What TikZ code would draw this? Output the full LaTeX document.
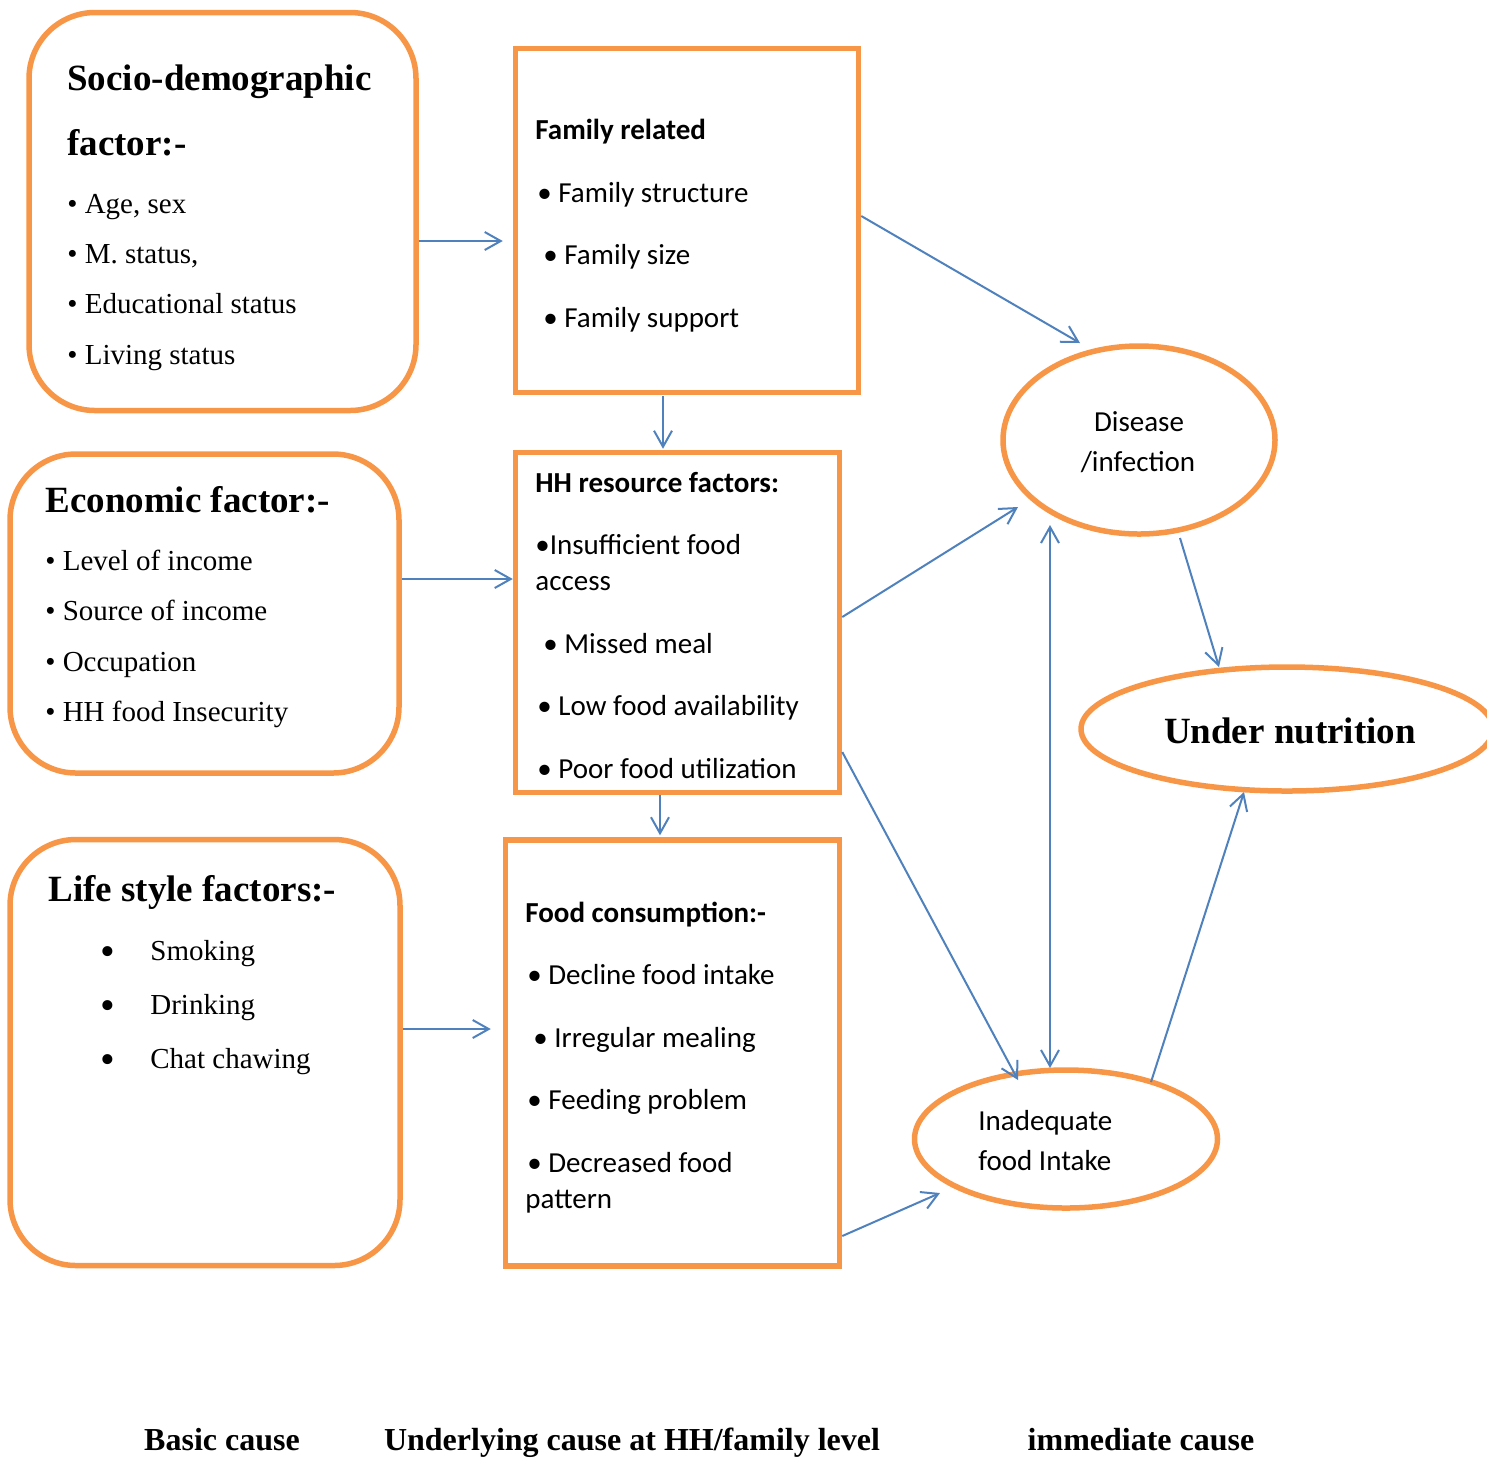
\documentclass[tikz,border=0pt]{standalone}
\usepackage{fontspec}
\setmainfont{Liberation Serif}
\newfontfamily\calibri{Carlito}
\usetikzlibrary{arrows.meta,shapes.geometric,calc}
\definecolor{borange}{HTML}{F79646}
\definecolor{lblue}{HTML}{4F81BD}
\tikzset{
  rbox/.style={draw=borange,line width=2.75pt,rounded corners=33pt,inner sep=0pt},
  sbox/.style={draw=borange,line width=2.75pt,inner sep=0pt},
  oval/.style={ellipse,draw=borange,line width=2.75pt,inner sep=0pt},
  arr/.style={draw=lblue,line width=1pt,-{Straight Barb[length=8pt,width=9pt]}},
  darr/.style={draw=lblue,line width=1pt,{Straight Barb[length=8pt,width=9pt]}-{Straight Barb[length=8pt,width=9pt]}},
  sh/.style={anchor=mid west,inner sep=0pt,yshift=-2.5pt,font=\bfseries\fontsize{18.5}{22}\selectfont},
  st/.style={anchor=mid west,inner sep=0pt,yshift=-1.5pt,font=\fontsize{14.5}{17}\selectfont},
  ch/.style={anchor=mid west,inner sep=0pt,yshift=-1.5pt,font=\calibri\bfseries\fontsize{14.5}{17}\selectfont},
  ct/.style={anchor=mid west,inner sep=0pt,yshift=-1.5pt,font=\calibri\fontsize{14.5}{17}\selectfont},
  bl/.style={anchor=mid,inner sep=0pt,yshift=-4pt,font=\fontsize{21}{24}\selectfont},
  foot/.style={anchor=mid,inner sep=0pt,yshift=-1.5pt,font=\bfseries\fontsize{16}{19}\selectfont}
}
\begin{document}
\begin{tikzpicture}[x=0.5pt,y=-0.5pt]
\useasboundingbox (0,0) rectangle (1487,1458);
\clip (0,0) rectangle (1487,1458);
% boxes
\node[rbox,minimum width=193.5pt,minimum height=199pt] (b1) at (222.5,211.5) {};
\node[rbox,minimum width=194.5pt,minimum height=159.5pt] (b2) at (204.5,613.5) {};
\node[rbox,minimum width=195pt,minimum height=213pt] (b3) at (205,1052.5) {};
\node[sbox,minimum width=171.5pt,minimum height=172pt] (ra) at (687,220.5) {};
\node[sbox,minimum width=162pt,minimum height=170pt] (rb) at (677.5,622.5) {};
\node[sbox,minimum width=167pt,minimum height=213pt] (rc) at (672.5,1053) {};
\node[oval,minimum width=136pt,minimum height=94pt] (dis) at (1139,440) {};
\node[oval,minimum width=206pt,minimum height=62pt] (und) at (1287,729) {};
\node[oval,minimum width=151.5pt,minimum height=69pt] (inad) at (1066,1139) {};
% box 1 text
\node[sh] (t1a) at (67,81) {Socio-demographic};
\node[sh] (t1b) at (67,146) {factor:-};
\node[st] (t1c) at (67,206) {• Age, sex};
\node[st] (t1d) at (67,256) {• M. status,};
\node[st] (t1e) at (67,306) {• Educational status};
\node[st] (t1f) at (67,357) {• Living status};
% box 2 text
\node[sh] (t2a) at (45,503) {Economic factor:-};
\node[st] (t2b) at (45,563) {• Level of income};
\node[st] (t2c) at (45,613) {• Source of income};
\node[st] (t2d) at (45,664) {• Occupation};
\node[st] (t2e) at (45,714) {• HH food Insecurity};
% box 3 text
\node[sh] (t3a) at (48,892) {Life style factors:-};
\node[bl] (t3b1) at (108,953) {•};
\node[bl] (t3c1) at (108,1007) {•};
\node[bl] (t3d1) at (108,1061) {•};
\node[st] (t3b) at (150,953) {Smoking};
\node[st] (t3c) at (150,1007) {Drinking};
\node[st] (t3d) at (150,1061) {Chat chawing};
% rect A text
\node[ch] (ta1) at (535,132) {Family related};
\node[ct] (ta2) at (537,195) {• Family structure};
\node[ct] (ta3) at (543,257) {• Family size};
\node[ct] (ta4) at (543,320) {• Family support};
% rect B text
\node[ch] (tb1) at (535,485) {HH resource factors:};
\node[ct] (tb2) at (535,547) {•Insufficient food};
\node[ct] (tb3) at (535,583) {access};
\node[ct] (tb4) at (543,646) {• Missed meal};
\node[ct] (tb5) at (537,708) {• Low food availability};
\node[ct] (tb6) at (537,771) {• Poor food utilization};
% rect C text
\node[ch] (tc1) at (525,915) {Food consumption:-};
\node[ct] (tc2) at (527,977) {• Decline food intake};
\node[ct] (tc3) at (533,1040) {• Irregular mealing};
\node[ct] (tc4) at (527,1102) {• Feeding problem};
\node[ct] (tc5) at (527,1165) {• Decreased food};
\node[ct] (tc6) at (525,1201) {pattern};
% ellipse texts
\node[ct,anchor=mid] (td1) at (1139,424) {Disease};
\node[ct,anchor=mid] (td2) at (1138,464) {/infection};
\node[anchor=mid,inner sep=0pt,yshift=-2.5pt,font=\bfseries\fontsize{18.5}{22}\selectfont] (tu) at (1290,734) {Under nutrition};
\node[ct] (ti1) at (978,1123) {Inadequate};
\node[ct] (ti2) at (978,1163) {food Intake};
% footer
\node[foot] (f1) at (222,1443) {Basic cause};
\node[foot] (f2) at (632,1443) {Underlying cause at HH/family level};
\node[foot] (f3) at (1141,1443) {immediate cause};
% arrows
\draw[arr] ($(b1.east)+(0,29.5)$) -- ($(ra.west)+(-10,20.5)$);
\draw[arr] ($(ra.south)+(-24,1)$) -- ($(rb.north)+(-14.5,-1)$);
\draw[arr] ($(b2.east)+(0,-34.5)$) -- ($(rb.west)+(0,-43.5)$);
\draw[arr] ($(rb.south)+(-17.5,0)$) -- ($(rc.north)+(-12.5,-2)$);
\draw[arr] ($(b3.east)+(0,-23.5)$) -- ($(rc.west)+(-12,-24)$);
\draw[arr] ($(ra.east)+(0,-4.5)$) -- ($(dis.center)+(-59,-97)$);
\draw[arr] ($(rb.east)+(0,-5.5)$) -- ($(dis.center)+(-121,67)$);
\draw[arr] ($(dis.center)+(41,98)$) -- ($(und.center)+(-68,-62)$);
\draw[darr] ($(dis.center)+(-89,85)$) -- ($(inad.center)+(-16,-71)$);
\draw[arr] ($(rb.east)+(0,129.5)$) -- ($(inad.center)+(-48,-59)$);
\draw[arr] ($(rc.east)+(0,183)$) -- ($(inad.center)+(-126,54)$);
\draw[arr] ($(inad.center)+(85,-57)$) -- ($(und.center)+(-43,63)$);
\end{tikzpicture}
\end{document}
